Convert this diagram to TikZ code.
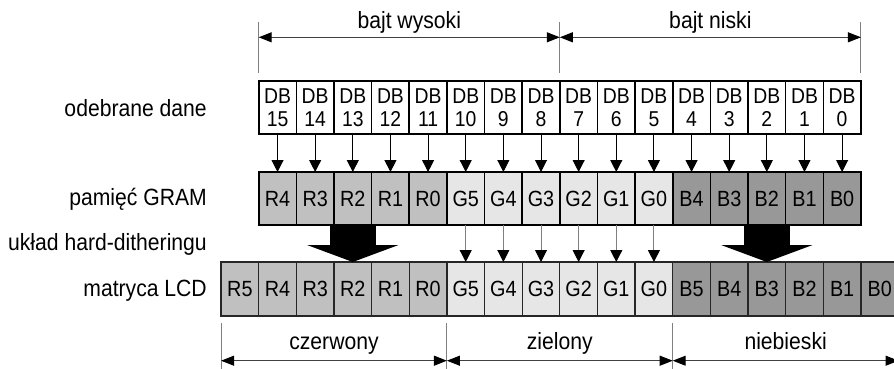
\documentclass[tikz,border=0pt]{standalone}
\usepackage{fontspec}
\setmainfont{Liberation Sans}[FakeStretch=0.9]
\usetikzlibrary{arrows.meta,calc}

\definecolor{redbit}{HTML}{C0C0C0}
\definecolor{greenbit}{HTML}{E6E6E6}
\definecolor{bluebit}{HTML}{989898}
\definecolor{dimgrey}{HTML}{7F7F7F}
\definecolor{wiregrey}{HTML}{404040}

\begin{document}
\begin{tikzpicture}[x=1pt,y=-1pt,
  cell/.style={draw=black, line width=1.6pt, minimum width=37.64pt, minimum height=53pt,
    inner sep=0pt, outer sep=0pt, font=\fontsize{22}{23}\selectfont},
  dbcell/.style={cell, fill=white, align=center, font=\fontsize{21.5}{22.7}\selectfont},
  lcdcell/.style={cell, draw=black!85, line width=1.3pt, minimum height=54pt},
  rowlabel/.style={anchor=base east, font=\fontsize{23.5}{28}\selectfont, inner sep=0pt},
  dimtext/.style={anchor=base, font=\fontsize{23.5}{28}\selectfont, inner sep=0pt},
  bitarrow/.style={draw=black, line width=1pt, -{Triangle[width=12pt,length=12pt]}},
  ditharrow/.style={draw=dimgrey, line width=1pt, -{Triangle[width=12pt,length=12pt,color=black]}},
  blockarrow/.style={draw=black, line width=46pt, -{Triangle[width=91pt,length=17pt]}},
  extline/.style={draw=dimgrey, line width=1pt},
  dimarrow/.style={draw=wiregrey, line width=1pt,
    {Triangle[width=10pt,length=13pt,color=black]}-{Triangle[width=10pt,length=13pt,color=black]}},
]

\clip (0,0) rectangle (894,369);

% received data bits DB15..DB0
\foreach \i in {0,...,15}{
  \pgfmathtruncatemacro\bit{15-\i}
  \node[dbcell] (db\i) at ({258.7+(\i+0.5)*37.64}, 107.5) {DB\\\bit};
}

% GRAM contents (16 bits)
\foreach \lab/\col [count=\n from 0] in
  {R4/redbit,R3/redbit,R2/redbit,R1/redbit,R0/redbit,
   G5/greenbit,G4/greenbit,G3/greenbit,G2/greenbit,G1/greenbit,G0/greenbit,
   B4/bluebit,B3/bluebit,B2/bluebit,B1/bluebit,B0/bluebit}
  \node[cell, fill=\col] (g\n) at ({258.7+(\n+0.5)*37.64}, 198.5) {\lab};

% LCD matrix (18 bits)
\foreach \lab/\col [count=\n from 0] in
  {R5/redbit,R4/redbit,R3/redbit,R2/redbit,R1/redbit,R0/redbit,
   G5/greenbit,G4/greenbit,G3/greenbit,G2/greenbit,G1/greenbit,G0/greenbit,
   B5/bluebit,B4/bluebit,B3/bluebit,B2/bluebit,B1/bluebit,B0/bluebit}
  \node[lcdcell, fill=\col] (l\n) at ({221.06+(\n+0.5)*37.64}, 289) {\lab};

% data bus to GRAM
\foreach \i in {0,...,15}
  \draw[bitarrow] (db\i.south) -- (g\i.north);

% green bits pass straight through
\foreach \i in {5,...,10}{
  \pgfmathtruncatemacro\j{\i+1}
  \draw[ditharrow] (g\i.south) -- (l\j.north);
}

% red and blue expanded by the dithering unit
\draw[blockarrow] (g2.south) -- (l3.north);
\draw[blockarrow] (g13.south) -- (l14.north);

% row labels
\node[rowlabel] (lbdata) at (207,116.5) {odebrane dane};
\node[rowlabel] (lbgram) at (207,205) {pamięć GRAM};
\node[rowlabel] (lbdith) at (207,250) {układ hard-ditheringu};
\node[rowlabel] (lblcd)  at (207,296.5) {matryca LCD};

% byte dimensions
\foreach \c/\n in {db0.north west/1, db7.north east/2, db15.north east/3}{
  \coordinate (tb\n) at (\c |- 0,73);
  \coordinate (tt\n) at (\c |- 0,21.7);
  \coordinate (td\n) at (\c |- 0,37.3);
  \draw[extline] (tb\n) -- (tt\n);
}
\draw[dimarrow] (td1) -- (td2);
\draw[dimarrow] (td2) -- (td3);
\node[dimtext] (hibyte) at ($(td1)!0.5!(td2)+(0,-8.3)$) {bajt wysoki};
\node[dimtext] (lobyte) at ($(td2)!0.5!(td3)+(0,-8.3)$) {bajt niski};

% colour component dimensions
\foreach \c/\n in {l0.south west/1, l5.south east/2, l11.south east/3, l17.south east/4}{
  \coordinate (bt\n) at (\c |- 0,323);
  \coordinate (bb\n) at (\c |- 0,375);
  \coordinate (bd\n) at (\c |- 0,360.7);
  \draw[extline] (bt\n) -- (bb\n);
}
\draw[dimarrow] (bd1) -- (bd2);
\draw[dimarrow] (bd2) -- (bd3);
\draw[dimarrow] (bd3) -- (bd4);
\node[dimtext] (red)   at ($(bd1)!0.5!(bd2)+(0,-11)$) {czerwony};
\node[dimtext] (green) at ($(bd2)!0.5!(bd3)+(0,-11)$) {zielony};
\node[dimtext] (blue)  at ($(bd3)!0.5!(bd4)+(0,-11)$) {niebieski};

\end{tikzpicture}
\end{document}
